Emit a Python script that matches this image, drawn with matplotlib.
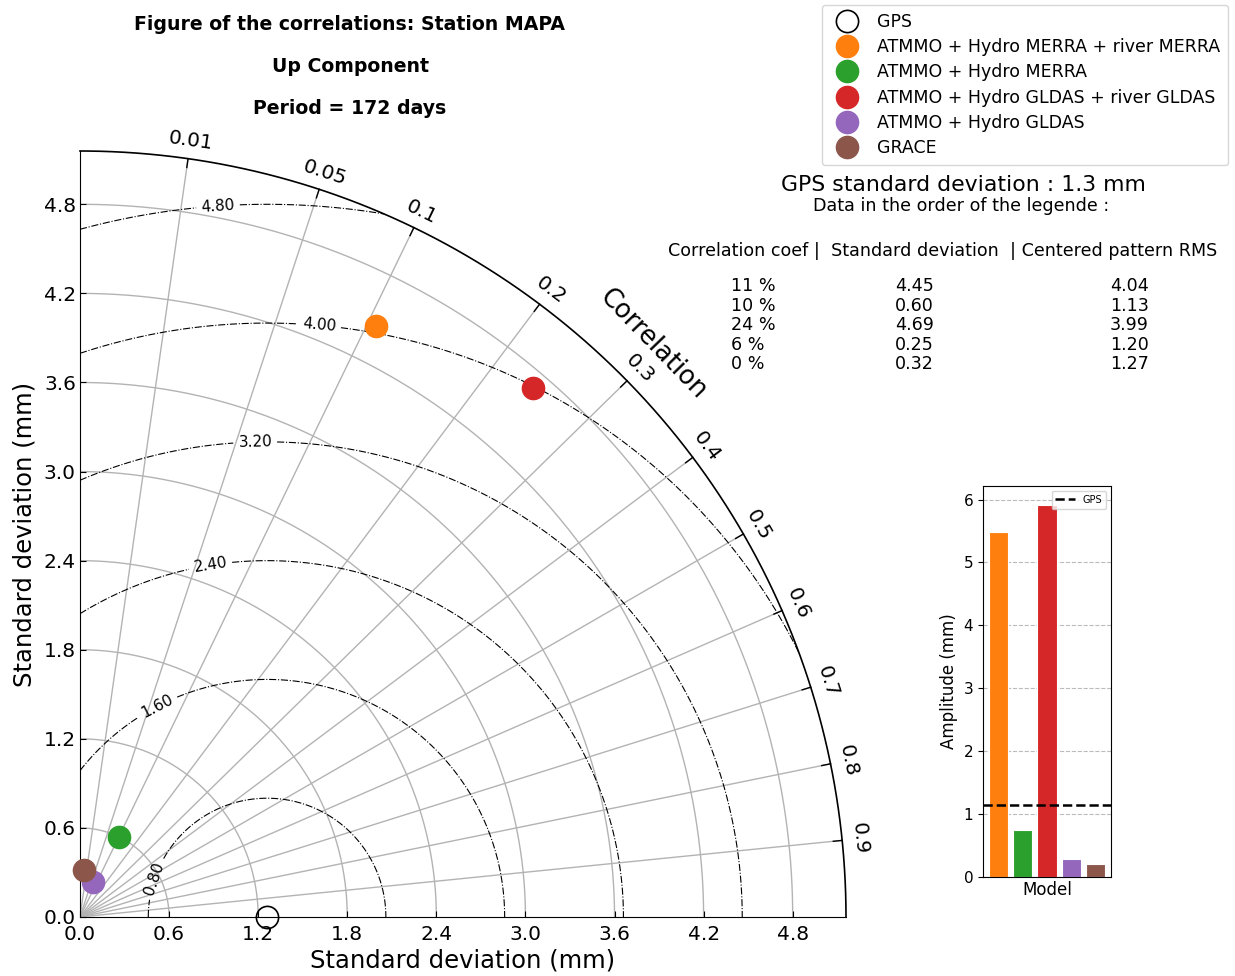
import numpy as np
import matplotlib
matplotlib.use("Agg")
import matplotlib.pyplot as plt

# data
models = ["ATMMO + Hydro MERRA + river MERRA", "ATMMO + Hydro MERRA",
          "ATMMO + Hydro GLDAS + river GLDAS", "ATMMO + Hydro GLDAS", "GRACE"]
colors = ["tab:orange", "tab:green", "tab:red", "tab:purple", "tab:brown"]
corr = [0.106, 0.10, 0.24, 0.06, 0.004]
stddev = [4.45, 0.60, 4.69, 0.25, 0.32]
crmsd = [4.04, 1.13, 3.99, 1.20, 1.27]
gps_std = 1.26
amplitude = [5.48, 0.75, 5.92, 0.28, 0.21]
gps_amplitude = 1.14

corr_ticks = [0.01, 0.05, 0.1, 0.2, 0.3, 0.4, 0.5, 0.6, 0.7, 0.8, 0.9]
std_ticks = [0.0, 0.6, 1.2, 1.8, 2.4, 3.0, 3.6, 4.2, 4.8]
rms_levels = [0.8, 1.6, 2.4, 3.2, 4.0, 4.8]

W, H = 1235, 976
fig = plt.figure(figsize=(W / 100, H / 100), dpi=100)


def fx(px):
    return px / W


def fy(py):
    return 1 - py / H


def angle(c):
    # angular position used by this diagram
    return np.arcsin(1 - np.asarray(c))


rmax = 1.1 * max(stddev)
ax = fig.add_axes([fx(80), fy(917), 766 / W, 766 / H])
ax.set_xlim(0, rmax)
ax.set_ylim(0, rmax)
ax.spines[["top", "right"]].set_visible(False)
ax.set_xticks(std_ticks)
ax.set_yticks(std_ticks)
ax.set_xticklabels([f"{t:.1f}" for t in std_ticks])
ax.set_yticklabels([f"{t:.1f}" for t in std_ticks])
ax.tick_params(direction="in", labelsize=14.5, length=4, pad=3)
ax.tick_params(axis="x", pad=6)
ax.set_xlabel("Standard deviation (mm)", fontsize=17.5, labelpad=3)
ax.set_ylabel("Standard deviation (mm)", fontsize=17.5, labelpad=5)

th = np.linspace(0, np.pi / 2, 300)
# std arcs
for r in std_ticks[1:]:
    ax.plot(r * np.cos(th), r * np.sin(th), color="#b3b3b3", lw=1, zorder=1)
# outer arc
ax.plot(rmax * np.cos(th), rmax * np.sin(th), color="black", lw=1.2, zorder=3, clip_on=False)
# correlation lines, ticks and labels
for c in corr_ticks:
    a = angle(c)
    ax.plot([0, rmax * np.cos(a)], [0, rmax * np.sin(a)], color="#b3b3b3", lw=1, zorder=1)
    ax.plot([(rmax - 0.06) * np.cos(a), rmax * np.cos(a)],
            [(rmax - 0.06) * np.sin(a), rmax * np.sin(a)], color="black", lw=1, zorder=3)
    rl = rmax + 0.12
    ax.text(rl * np.cos(a), rl * np.sin(a), f"{c:g}", fontsize=14.5,
            rotation=np.degrees(a) - 90, ha="center", va="center",
            rotation_mode="anchor", clip_on=False)
ax.text(1.058 * rmax * np.cos(np.pi / 4), 1.058 * rmax * np.sin(np.pi / 4), "Correlation",
        fontsize=18.5, rotation=-46, ha="center", va="center", rotation_mode="anchor")

# centered RMS contours
rr, tt = np.meshgrid(np.linspace(0, rmax, 400), np.linspace(0, np.pi / 2, 400))
X = rr * np.cos(tt)
Y = rr * np.sin(tt)
Z = np.sqrt(rr ** 2 + gps_std ** 2 - 2 * rr * gps_std * np.cos(tt))
cs = ax.contour(X, Y, Z, levels=rms_levels, colors="black", linestyles="dashdot",
                linewidths=0.8, zorder=2)
ax.clabel(cs, fmt="%.2f", fontsize=11, inline=True,
          manual=[(0.50, 0.26), (0.52, 1.42), (0.88, 2.36), (1.18, 3.19),
                  (1.61, 3.97), (0.93, 4.78)])

# points
handles = [ax.plot(gps_std, 0, "o", ms=16, mfc="none", mec="black", mew=1.2,
                   clip_on=False, zorder=5, label="GPS")[0]]
for c, s, col, name in zip(corr, stddev, colors, models):
    a = angle(c)
    h, = ax.plot(s * np.cos(a), s * np.sin(a), "o", ms=16, color=col,
                 clip_on=False, zorder=5, label=name)
    handles.append(h)

fig.legend(handles=handles, loc="upper right", bbox_to_anchor=(fx(1228), fy(5)),
           fontsize=12.5, numpoints=1, labelspacing=0.42, borderpad=0.45,
           handletextpad=0.75, borderaxespad=0)

# titles and table text
for txt, py in zip(["Figure of the correlations: Station MAPA", "Up Component",
                    "Period = 172 days"], [24, 67, 109]):
    fig.text(fx(350), fy(py), txt, fontsize=13.6, fontweight="bold", ha="center", va="center")
fig.text(fx(963), fy(185), f"GPS standard deviation : {gps_std:.1f} mm", fontsize=15.8,
         ha="center", va="center")
fig.text(fx(961), fy(206), "Data in the order of the legende :", fontsize=12.6,
         ha="center", va="center")
fig.text(fx(668), fy(251), "Correlation coef |  Standard deviation  | Centered pattern RMS",
         fontsize=12.6, ha="left", va="center")
for i in range(len(models)):
    py = 286 + i * 19.6
    fig.text(fx(731), fy(py), f"{corr[i] * 100:.0f} %", fontsize=12.6, ha="left", va="center")
    fig.text(fx(895), fy(py), f"{stddev[i]:.2f}", fontsize=12.6, ha="left", va="center")
    fig.text(fx(1110), fy(py), f"{crmsd[i]:.2f}", fontsize=12.6, ha="left", va="center")

# amplitude bars
bx = fig.add_axes([fx(983), fy(877), 128 / W, (877 - 486) / H])
bx.bar(range(len(models)), amplitude, width=0.8, color=colors, edgecolor="white",
       linewidth=0.8, zorder=2)
bx.axhline(gps_amplitude, color="black", ls="--", lw=1.8, label="GPS", zorder=3)
bx.set_xticks([2])
bx.set_xticklabels(["Model"])
bx.set_yticks(range(7))
bx.tick_params(labelsize=11)
bx.tick_params(axis="x", labelsize=12, length=0, pad=3)
bx.set_ylabel("Amplitude (mm)", fontsize=12)
bx.grid(axis="y", ls="--", color="#bbbbbb", zorder=0)
bx.legend(loc="upper right", fontsize=7)

fig.savefig("out.png", dpi=100)
